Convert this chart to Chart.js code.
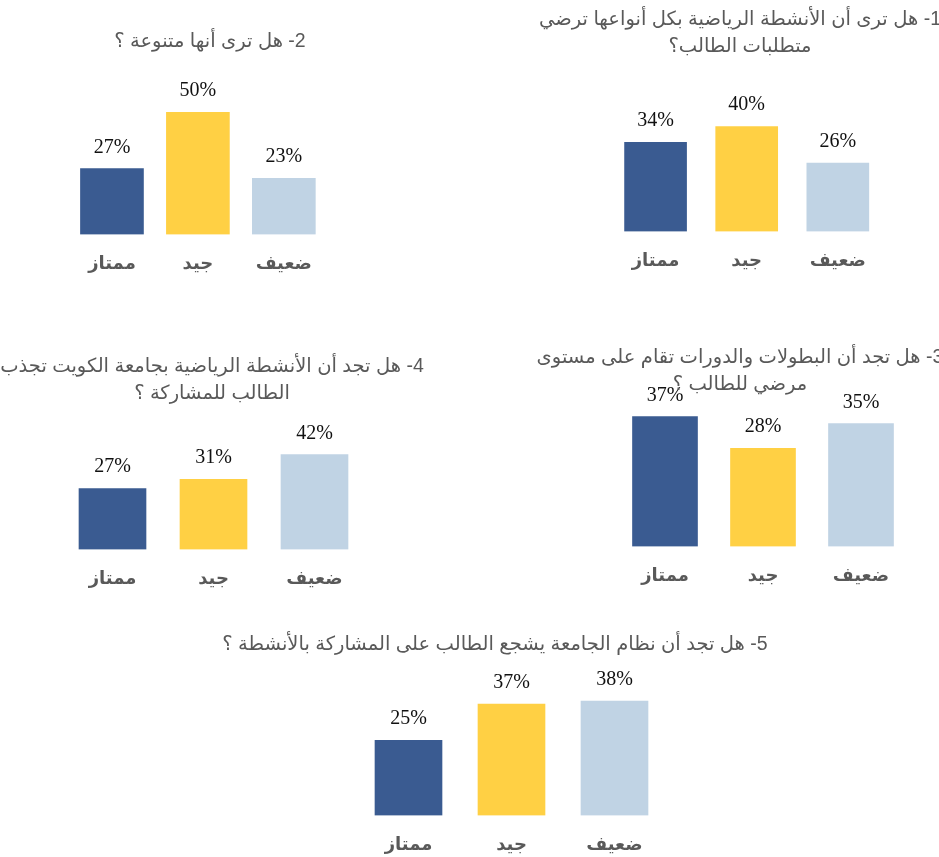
<!DOCTYPE html>
<html>
<head>
    <meta charset="utf-8">
    <title>استبيان الأنشطة الرياضية</title>
    <script src="https://cdn.jsdelivr.net/npm/chart.js"></script>
    <style>
        body { margin: 0; background: #fff; }
        #page { position: relative; width: 939px; height: 857px; overflow: hidden; }
        .panel { position: absolute; }
        .title {
            position: absolute;
            width: 600px;
            text-align: center;
            direction: rtl;
            white-space: nowrap;
            font-family: "Liberation Sans", Arial, "DejaVu Sans", sans-serif;
            font-size: 19.5px;
            line-height: 27px;
            color: #595959;
        }
    </style>
</head>
<body>
    <div id="page"></div>
    <script>
        // answer categories shared by every question
        var categories = ['ممتاز', 'جيد', 'ضعيف'];

        // percentages per question
        var q1Values = [34, 40, 26];
        var q2Values = [27, 50, 23];
        var q3Values = [37, 28, 35];
        var q4Values = [27, 31, 42];
        var q5Values = [25, 37, 38];

        // question titles, one entry per line
        var q1Title = ['1- هل ترى أن الأنشطة الرياضية بكل أنواعها ترضي', 'متطلبات الطالب؟'];
        var q2Title = ['2- هل ترى أنها متنوعة ؟'];
        var q3Title = ['3- هل تجد أن البطولات والدورات تقام على مستوى', 'مرضي للطالب ؟'];
        var q4Title = ['4- هل تجد أن الأنشطة الرياضية بجامعة الكويت تجذب', 'الطالب للمشاركة ؟'];
        var q5Title = ['5- هل تجد أن نظام الجامعة يشجع الطالب على المشاركة بالأنشطة ؟'];

        var barColors = ['#3A5B91', '#FFD044', '#C0D3E4'];

        // where each small chart sits on the page
        var panels = [
            { values: q1Values, title: q1Title, left: 610, width: 275, baseline: 231, pxPerUnit: 2.615, bar: 62, titleX: 740, titleTop: 5 },
            { values: q2Values, title: q2Title, left: 69,  width: 262, baseline: 234, pxPerUnit: 2.44,  bar: 63, titleX: 210, titleTop: 27 },
            { values: q3Values, title: q3Title, left: 616, width: 294, baseline: 546, pxPerUnit: 3.5,   bar: 65, titleX: 740, titleTop: 343 },
            { values: q4Values, title: q4Title, left: 62,  width: 303, baseline: 549, pxPerUnit: 2.25,  bar: 67, titleX: 212, titleTop: 352 },
            { values: q5Values, title: q5Title, left: 357, width: 309, baseline: 815, pxPerUnit: 3.0,   bar: 67, titleX: 495, titleTop: 630 }
        ];

        var Y_MAX = 60;
        var TOP_ROOM = 30;
        var AXIS_HEIGHT = 59.6; // room the x axis takes under the bars

        // percentage written above every bar
        var valueLabels = {
            id: 'valueLabels',
            afterDatasetsDraw: function(chart) {
                var ctx = chart.ctx;
                var ds = chart.data.datasets[0];
                ctx.save();
                ctx.font = '20px "Liberation Serif", "Times New Roman", serif';
                ctx.fillStyle = '#111';
                ctx.textAlign = 'center';
                ctx.textBaseline = 'alphabetic';
                chart.getDatasetMeta(0).data.forEach(function(bar, i) {
                    ctx.fillText(ds.data[i] + '%', bar.x, bar.y - 16);
                });
                ctx.restore();
            }
        };

        var page = document.getElementById('page');

        panels.forEach(function(p) {
            var plotHeight = Y_MAX * p.pxPerUnit;
            var canvas = document.createElement('canvas');
            canvas.className = 'panel';
            canvas.width = p.width;
            canvas.height = Math.round(TOP_ROOM + plotHeight + AXIS_HEIGHT);
            canvas.style.left = p.left + 'px';
            canvas.style.top = (p.baseline - plotHeight - TOP_ROOM) + 'px';
            page.appendChild(canvas);

            var title = document.createElement('div');
            title.className = 'title';
            title.style.left = (p.titleX - 300) + 'px';
            title.style.top = p.titleTop + 'px';
            title.innerHTML = p.title.join('<br>');
            page.appendChild(title);

            new Chart(canvas.getContext('2d'), {
                type: 'bar',
                data: {
                    labels: categories,
                    datasets: [{
                        data: p.values,
                        backgroundColor: barColors,
                        barThickness: p.bar
                    }]
                },
                options: {
                    responsive: false,
                    animation: false,
                    layout: { padding: { top: TOP_ROOM, left: 0, right: 0, bottom: 0 } },
                    plugins: {
                        legend: { display: false },
                        tooltip: { enabled: false }
                    },
                    scales: {
                        x: {
                            grid: { display: false, drawTicks: false },
                            border: { display: false },
                            ticks: {
                                padding: 19,
                                color: '#595959',
                                font: { family: '"Liberation Sans", Arial, "DejaVu Sans", sans-serif', size: 18, weight: 'bold' }
                            }
                        },
                        y: {
                            display: false,
                            min: 0,
                            max: Y_MAX
                        }
                    }
                },
                plugins: [valueLabels]
            });
        });
    </script>
</body>
</html>
